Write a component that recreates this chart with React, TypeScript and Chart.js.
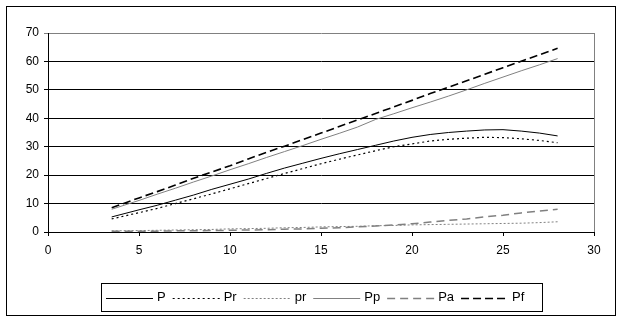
import { useEffect, useRef } from "react";
import { Chart, registerables } from "chart.js";

Chart.register(...registerables);

const X_VALUES = [3.5, 5, 6, 7, 8, 9, 10, 11, 12, 13, 14, 15, 16, 17, 18, 19, 20, 21, 22, 23, 24, 25, 26, 27, 28];
const P_VALUES = [5.3, 7.8, 9.4, 11.2, 13.0, 15.0, 16.8, 18.6, 20.6, 22.5, 24.2, 25.9, 27.5, 29.0, 30.5, 32.0, 33.3, 34.3, 35.0, 35.5, 35.9, 36.0, 35.5, 34.8, 33.8];
const PR_VALUES = [4.6, 6.8, 8.3, 10.0, 11.7, 13.4, 15.2, 17.0, 18.8, 20.6, 22.3, 24.0, 25.6, 27.1, 28.6, 30.0, 31.0, 32.0, 32.6, 33.0, 33.3, 33.2, 32.8, 32.2, 31.4];
const PR_LOWER_VALUES = [0.4, 0.5, 0.6, 0.7, 0.8, 0.9, 1.1, 1.2, 1.3, 1.5, 1.6, 1.8, 1.9, 2.0, 2.2, 2.3, 2.5, 2.6, 2.7, 2.8, 2.9, 3.0, 3.1, 3.3, 3.6];
const PP_VALUES = [8.0, 11.1, 13.3, 15.4, 17.6, 19.7, 21.9, 24.0, 26.2, 28.3, 30.4, 32.6, 34.7, 36.9, 39.6, 41.6, 43.7, 45.7, 47.8, 50.0, 52.3, 54.5, 56.7, 58.8, 61.0];
const PA_VALUES = [0.3, 0.3, 0.3, 0.4, 0.4, 0.5, 0.6, 0.7, 0.8, 1.0, 1.1, 1.3, 1.5, 1.8, 2.1, 2.5, 2.9, 3.5, 4.1, 4.6, 5.3, 5.9, 6.7, 7.4, 8.0];
const PF_VALUES = [8.5, 12.0, 14.2, 16.5, 18.9, 21.1, 23.3, 25.7, 28.0, 30.2, 32.5, 34.8, 37.1, 39.4, 41.7, 44.0, 46.3, 48.7, 50.9, 53.2, 55.5, 57.8, 60.1, 62.3, 64.6];

const SERIES_LABELS = ["P", "Pr", "pr", "Pp", "Pa", "Pf"];
const X_MIN = 0;
const X_MAX = 30;
const X_STEP = 5;
const Y_MIN = 0;
const Y_MAX = 70;
const Y_STEP = 10;

const FONT = "'Liberation Sans', Arial, sans-serif";
const GRAY = "#808080";

const STYLES = [
  { color: "#000000", dash: [] as number[], width: 1 },
  { color: "#000000", dash: [2, 3], width: 1.2 },
  { color: GRAY, dash: [2, 2], width: 1 },
  { color: GRAY, dash: [] as number[], width: 1 },
  { color: GRAY, dash: [8, 5], width: 1.5 },
  { color: "#000000", dash: [8, 4], width: 1.6 },
];

const SERIES = [P_VALUES, PR_VALUES, PR_LOWER_VALUES, PP_VALUES, PA_VALUES, PF_VALUES];

const framePlugin = {
  id: "frame",
  afterDraw(chart: any) {
    const ctx = chart.ctx;
    const a = chart.chartArea;
    ctx.save();
    ctx.strokeStyle = GRAY;
    ctx.lineWidth = 1;
    ctx.setLineDash([]);
    ctx.beginPath();
    ctx.moveTo(Math.round(a.right) + 0.5, a.top);
    ctx.lineTo(Math.round(a.right) + 0.5, a.bottom);
    ctx.stroke();
    ctx.strokeStyle = "#000";
    ctx.strokeRect(6.5, 6.5, 609, 309);
    const boxL = 101.5, boxT = 283.5, boxW = 441, boxH = 28;
    ctx.strokeRect(boxL, boxT, boxW, boxH);
    ctx.font = "13px " + FONT;
    ctx.textBaseline = "middle";
    ctx.fillStyle = "#000";
    let x = 106;
    const cy = boxT + boxH / 2;
    SERIES_LABELS.forEach((label, i) => {
      const st = STYLES[i];
      ctx.strokeStyle = st.color;
      ctx.lineWidth = st.width;
      ctx.setLineDash(st.dash);
      ctx.beginPath();
      ctx.moveTo(x, Math.round(cy) + 0.5);
      ctx.lineTo(x + 47, Math.round(cy) + 0.5);
      ctx.stroke();
      ctx.setLineDash([]);
      const tx = x + 51;
      ctx.fillText(label, tx, cy);
      x = tx + ctx.measureText(label).width + 7;
    });
    ctx.restore();
  },
};

export default function App() {
  const ref = useRef<HTMLCanvasElement | null>(null);
  useEffect(() => {
    if (!ref.current) return;
    const chart = new Chart(ref.current, {
      type: "scatter",
      data: {
        datasets: SERIES.map((vals, i) => ({
          label: SERIES_LABELS[i],
          data: vals.map((v, j) => ({ x: X_VALUES[j], y: v })),
          showLine: true,
          borderColor: STYLES[i].color,
          backgroundColor: STYLES[i].color,
          borderWidth: STYLES[i].width,
          borderDash: STYLES[i].dash,
          pointRadius: 0,
          tension: 0,
          fill: false,
        })),
      },
      options: {
        responsive: false,
        animation: false,
        layout: { padding: { left: 8, top: 33, right: 30, bottom: 62 } },
        plugins: { legend: { display: false }, tooltip: { enabled: false } },
        scales: {
          x: {
            type: "linear",
            min: X_MIN,
            max: X_MAX,
            ticks: { stepSize: X_STEP, color: "#000", font: { family: FONT, size: 12 }, padding: 7, maxRotation: 0 },
            grid: { drawOnChartArea: false, color: "#000", tickLength: 4 },
            border: { color: "#000" },
            afterFit: (s: any) => { s.height = 26; },
          },
          y: {
            min: Y_MIN,
            max: Y_MAX,
            ticks: { stepSize: Y_STEP, color: "#000", font: { family: FONT, size: 12 }, padding: 5 },
            grid: {
              color: (c: any) => (c.tick && c.tick.value === Y_MAX ? GRAY : "#000"),
              tickLength: 4,
            },
            border: { color: "#000" },
            afterFit: (s: any) => { s.width = 40; },
          },
        },
      },
      plugins: [framePlugin],
    });
    return () => chart.destroy();
  }, []);
  return (
    <div style={{ position: "absolute", left: 0, top: 0, width: 624, height: 320, background: "#fff" }}>
      <canvas ref={ref} width={624} height={320} style={{ display: "block" }} />
    </div>
  );
}
